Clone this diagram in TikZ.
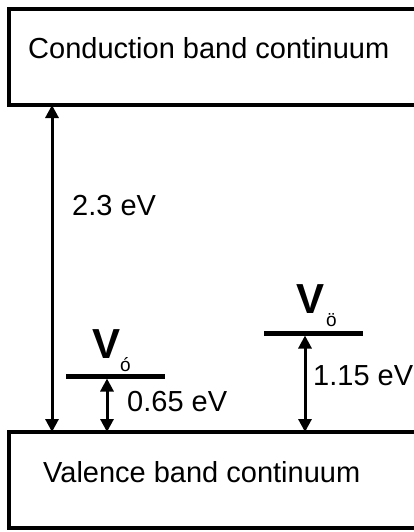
\documentclass[tikz,border=0pt]{standalone}
\usepackage{fontspec}
\setmainfont{Liberation Sans}
\usetikzlibrary{positioning,arrows.meta}
\tikzset{
  band/.style={rectangle, draw, line width=4.5pt, minimum width=440pt,
               minimum height=96pt, anchor=north west, inner sep=0pt, outer sep=0pt},
  lvl/.style={rectangle, fill=black, minimum width=99pt, minimum height=5pt,
              inner sep=0pt, outer sep=0pt},
  gap/.style={{Triangle[width=13pt,length=13pt]}-{Triangle[width=13pt,length=13pt]},
              line width=3pt},
  lbl/.style={font=\fontsize{29}{34}\selectfont, anchor=base west, inner sep=0pt},
  vsym/.style={font=\fontsize{42}{48}\selectfont\bfseries, anchor=base west, inner sep=0pt},
}
\newcommand{\Vsub}[2]{V\hspace{#2}\raisebox{-13pt}{\fontsize{19}{22}\selectfont\mdseries #1}}

\begin{document}
\begin{tikzpicture}[x=1pt, y=-1pt]
  \useasboundingbox[fill=white] (0,0) rectangle (413,532);
  % the two band continua
  \node[band] (cb) at (9,9) {};
  \node[band] (vb) at (9,432) {};
  \node[lbl] (cbt) at (28,59) {Conduction band continuum};
  \node[lbl] (vbt) at (43,482) {Valence band continuum};
  % defect levels
  \node[lvl] (vo) at (115,376) {};
  \node[lvl] (vu) at (313,333) {};
  \node[vsym] (vot) at (92,358) {\Vsub{ó}{0pt}};
  \node[vsym] (vut) at (296,313) {\Vsub{ö}{2pt}};
  % gaps
  \coordinate (xg) at (52,0);
  \coordinate (xo) at (107,0);
  \coordinate (xu) at (305,0);
  \draw[gap] (cb.south -| xg) -- (vb.north -| xg);
  \draw[gap] (vo.south -| xo) -- (vb.north -| xo);
  \draw[gap] (vu.south -| xu) -- (vb.north -| xu);
  \node[lbl] (g1) at (72,215) {2.3 eV};
  \node[lbl] (g2) at (127,411) {0.65 eV};
  \node[lbl] (g3) at (313,385) {1.15 eV};
\end{tikzpicture}
\end{document}
